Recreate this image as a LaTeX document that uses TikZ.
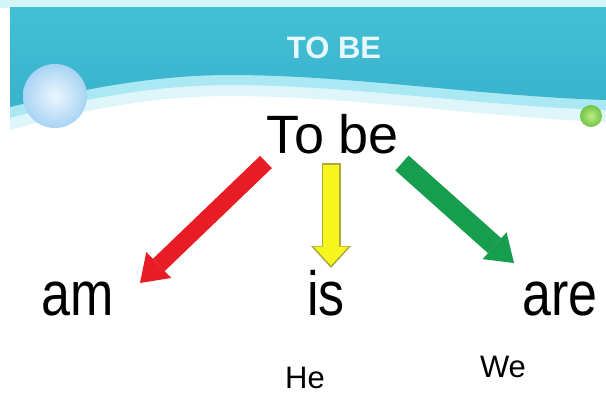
\documentclass[tikz,border=0pt]{standalone}
\usepackage{fontspec}
\setmainfont{Liberation Sans}
\usetikzlibrary{arrows.meta}
\definecolor{bandtop}{RGB}{66,192,214}
\definecolor{bandbot}{RGB}{58,178,204}
\definecolor{palecyan}{RGB}{212,244,249}
\definecolor{glowcyan}{RGB}{170,232,244}
\definecolor{glowpale}{RGB}{222,246,250}
\definecolor{arrred}{RGB}{232,28,36}
\definecolor{arryel}{RGB}{246,246,30}
\definecolor{arrolive}{RGB}{170,170,60}
\definecolor{arrgreen}{RGB}{22,158,78}
\definecolor{bubblein}{RGB}{236,246,255}
\definecolor{bubbleout}{RGB}{168,212,244}
\definecolor{dotin}{RGB}{190,236,130}
\definecolor{dotout}{RGB}{112,196,72}
\tikzset{
  bigword/.style={font=\fontsize{52}{52}\selectfont, inner sep=0pt, anchor=base},
  smallword/.style={font=\fontsize{31}{31}\selectfont, inner sep=0pt, anchor=base},
  blockarrow/.style={line width=18pt, -{Triangle[length=26pt, width=36pt, line width=0pt]}}
}
\begin{document}
\begin{tikzpicture}[x=1pt, y=-1pt]
\useasboundingbox (0,0) rectangle (606,405);
\fill[white] (0,0) rectangle (606,405);
% top pale strip
\fill[palecyan] (0,0) rectangle (606,8);
% glow under band (outer, paler)
\fill[glowpale]
  (10,7) -- (606,7) -- (606,122)
  .. controls (480,117) and (350,96) .. (230,96)
  .. controls (140,96) and (60,116) .. (10,130) -- cycle;
% glow under band (inner)
\fill[glowcyan]
  (10,7) -- (606,7) -- (606,110)
  .. controls (480,106) and (350,85) .. (230,85)
  .. controls (140,85) and (60,105) .. (10,118) -- cycle;
% band
\shade[top color=bandtop, bottom color=bandbot]
  (10,7) -- (606,7) -- (606,100)
  .. controls (480,96) and (350,75) .. (230,75)
  .. controls (140,75) and (60,95) .. (10,107) -- cycle;
% bubbles
\shade[inner color=bubblein, outer color=bubbleout] (55,96) circle (32);
\shade[inner color=dotin, outer color=dotout] (591,116) circle (11);
% title
\node[font=\bfseries\fontsize{31}{31}\selectfont, text=white!90!cyan, inner sep=0pt] (title) at (334,48) {TO BE};
% words
\node[font=\fontsize{54}{54}\selectfont, inner sep=0pt, anchor=base] (tobe) at (333,153) {To be};
\node[bigword] (am) at (77.5,315) {\scalebox{1}[1.2]{am}};
\node[bigword] (is) at (326,315) {\scalebox{1}[1.2]{is}};
\node[bigword] (are) at (560,315) {\scalebox{1}[1.2]{are}};
\node[smallword] (he) at (305,388) {He};
\node[smallword] (we) at (503,377) {We};
% arrow ends
\coordinate (redS) at (266,162);
\coordinate (redE) at (140,283);
\coordinate (yelS) at (331,163);
\coordinate (yelE) at (331,268);
\coordinate (yelS2) at (331,164.5);
\coordinate (yelE2) at (331,265.5);
\coordinate (grnS) at (402,163);
\coordinate (grnE) at (514,263);
% arrows
\draw[blockarrow, arrred, line width=17pt] (redS) -- (redE);
\draw[line width=19pt, arrolive, -{Triangle[length=22pt, width=40pt, line width=0pt]}] (yelS) -- (yelE);
\draw[line width=16pt, arryel, -{Triangle[length=19pt, width=35pt, line width=0pt]}] (yelS2) -- (yelE2);
\draw[blockarrow, arrgreen, line width=20pt] (grnS) -- (grnE);
\end{tikzpicture}
\end{document}
